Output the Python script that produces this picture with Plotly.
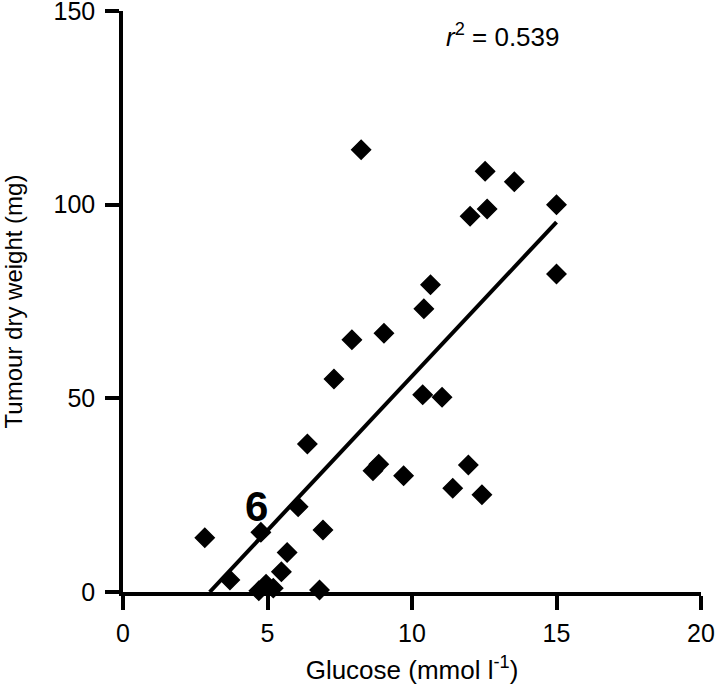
import plotly.graph_objects as go

# Data
glucose = [8.24, 12.53, 13.54, 15.0, 12.6, 12.01, 15.0, 10.64, 10.41, 9.03,
           7.92, 7.30, 10.37, 11.04, 6.38, 8.65, 8.85, 9.71, 6.06, 2.83,
           4.77, 6.92, 5.68, 5.48, 3.70, 6.80, 4.70, 4.95, 5.20, 11.95,
           11.41, 12.42]
tumour_weight = [114.2, 108.6, 105.9, 100.0, 98.9, 97.0, 82.1, 79.3, 73.1, 66.8,
                 65.1, 55.0, 50.9, 50.3, 38.2, 31.3, 33.0, 30.0, 22.0, 14.0,
                 15.4, 16.0, 10.2, 5.2, 3.1, 0.5, 0.3, 2.0, 1.0, 32.8,
                 26.8, 25.1]
fit_x = [3.0, 15.0]
fit_y = [0.0, 95.5]
x_ticks = [0, 5, 10, 15, 20]
y_ticks = [0, 50, 100, 150]
r2_text = "<i>r</i><sup>2</sup> = 0.539"

FONT = "Liberation Sans, Arial, Helvetica, sans-serif"

fig = go.Figure()
fig.add_trace(go.Scatter(x=fit_x, y=fit_y, mode="lines",
                         line=dict(color="black", width=4),
                         showlegend=False, hoverinfo="skip", cliponaxis=False))
fig.add_trace(go.Scatter(x=glucose, y=tumour_weight, mode="markers",
                         marker=dict(symbol="diamond", size=14.5, color="black",
                                     line=dict(color="black", width=1.5)),
                         showlegend=False, cliponaxis=False))

fig.add_annotation(x=13.16, y=143.7, text=r2_text, showarrow=False,
                   font=dict(family=FONT, size=26, color="black"),
                   xanchor="center", yanchor="middle")
fig.add_annotation(x=4.61, y=22.2, text="<b>6</b>", showarrow=False,
                   font=dict(family=FONT, size=42, color="black"),
                   xanchor="center", yanchor="middle")

fig.update_layout(
    width=719, height=691,
    margin=dict(l=123, r=18, t=11, b=99),
    plot_bgcolor="white", paper_bgcolor="white",
    font=dict(family=FONT, size=25, color="black"),
    xaxis=dict(range=[0, 20], tickvals=x_ticks, showgrid=False, zeroline=False,
               showline=True, linecolor="black", linewidth=3.5,
               ticks="outside", ticklen=14, tickwidth=3.5, tickcolor="black",
               tickfont=dict(size=25), ticklabelstandoff=2,
               ticklabeloverflow="allow",
               title=dict(text="Glucose (mmol l<sup>-1</sup>)", font=dict(size=26), standoff=16),
               automargin=False),
    yaxis=dict(range=[0, 150], tickvals=y_ticks, showgrid=False, zeroline=False,
               showline=True, linecolor="black", linewidth=3.5,
               ticks="outside", ticklen=14, tickwidth=3.5, tickcolor="black",
               tickfont=dict(size=25), ticklabelstandoff=5,
               ticklabeloverflow="allow",
               title=dict(text="Tumour dry weight (mg)", font=dict(size=24), standoff=36),
               automargin=False),
)

fig.write_html("out.html", config={"displayModeBar": False},
               post_script="document.body.style.margin='0';document.body.style.padding='0';")
